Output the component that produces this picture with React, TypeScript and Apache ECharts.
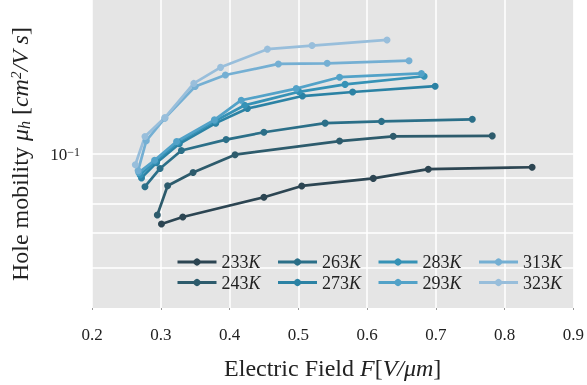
import React, { useEffect, useRef } from "react";
import * as echarts from "echarts";

// Temperatures (legend labels)
const temps = ["233K", "243K", "263K", "273K", "283K", "293K", "313K", "323K"];
const colors = ["#2c4552", "#2d5b6c", "#2b6f88", "#2b82a4", "#3592b6", "#52a2c8", "#74afd3", "#98bedb"];

// Electric field F [V/um] and hole mobility [cm^2/Vs] per temperature
const field233 = [0.301, 0.332, 0.450, 0.505, 0.609, 0.689, 0.840];
const mob233 = [0.0730, 0.0753, 0.0823, 0.0866, 0.0896, 0.0934, 0.0942];

const field243 = [0.295, 0.310, 0.347, 0.408, 0.560, 0.638, 0.782];
const mob243 = [0.0760, 0.0867, 0.0920, 0.0997, 0.1060, 0.1083, 0.1085];

const field263 = [0.277, 0.299, 0.330, 0.395, 0.450, 0.539, 0.621, 0.753];
const mob263 = [0.0863, 0.0937, 0.1016, 0.1067, 0.1103, 0.1149, 0.1158, 0.1169];

const field273 = [0.272, 0.294, 0.327, 0.380, 0.426, 0.506, 0.579, 0.699];
const mob273 = [0.0898, 0.0962, 0.1047, 0.1149, 0.1227, 0.1298, 0.1322, 0.1357];

const field283 = [0.270, 0.292, 0.325, 0.379, 0.422, 0.501, 0.568, 0.683];
const mob283 = [0.0910, 0.0968, 0.1055, 0.1160, 0.1245, 0.1323, 0.1368, 0.1419];

const field293 = [0.268, 0.291, 0.323, 0.378, 0.417, 0.497, 0.560, 0.679];
const mob293 = [0.0920, 0.0972, 0.1058, 0.1166, 0.1274, 0.1342, 0.1413, 0.1437];

const field313 = [0.267, 0.279, 0.306, 0.350, 0.394, 0.471, 0.542, 0.661];
const mob313 = [0.0928, 0.1062, 0.1175, 0.1355, 0.1427, 0.1500, 0.1504, 0.1522];

const field323 = [0.263, 0.277, 0.306, 0.348, 0.387, 0.455, 0.520, 0.629];
const mob323 = [0.0953, 0.1082, 0.1178, 0.1374, 0.1477, 0.1603, 0.1629, 0.1671];

const fields = [field233, field243, field263, field273, field283, field293, field313, field323];
const mobs = [mob233, mob243, mob263, mob273, mob283, mob293, mob313, mob323];

// Y axis (log) grid values and tick labels
const yGridValues = [0.06, 0.07, 0.08, 0.09, 0.1];
const yMajorTick = 0.1;

const legendRow1 = ["233K", "263K", "283K", "313K"];
const legendRow2 = ["243K", "273K", "293K", "323K"];

const FONT = "Liberation Serif";

export default function App() {
  const ref = useRef<HTMLDivElement>(null);
  useEffect(() => {
    if (!ref.current) return;
    const chart = echarts.init(ref.current, undefined, { renderer: "svg" });

    const legendText = {
      fontFamily: FONT,
      fontSize: 18,
      color: "#222",
      rich: {
        n: { fontFamily: FONT, fontSize: 18, color: "#222" },
        k: { fontFamily: FONT, fontSize: 18, fontStyle: "italic", color: "#222" },
      },
    };
    const legendFormatter = (name: string) => `{n|${name.slice(0, 3)}}{k|K}`;
    const legendBase = {
      orient: "horizontal",
      padding: 0,
      itemWidth: 39,
      itemHeight: 9,
      itemGap: 16,
      textStyle: legendText,
      formatter: legendFormatter,
      selectedMode: false,
      lineStyle: { width: 3 },
    };

    const gridSeries = {
      type: "line",
      name: "__grid",
      data: [],
      z: 1,
      silent: true,
      markLine: {
        silent: true,
        z: 1,
        symbol: ["none", "none"],
        animation: false,
        lineStyle: { color: "#ffffff", width: 1.5, type: "solid" },
        data: yGridValues.map((v) => ({
          yAxis: v,
          label:
            v === yMajorTick
              ? {
                  show: true,
                  position: "start",
                  distance: 12,
                  formatter: "{a|10}{b|−1}",
                  rich: {
                    a: { fontFamily: FONT, fontSize: 17, color: "#222" },
                    b: { fontFamily: FONT, fontSize: 12, color: "#222", verticalAlign: "top" },
                  },
                }
              : { show: false },
        })),
      },
    };

    const dataSeries = temps.map((t, i) => ({
      type: "line",
      name: t,
      z: 3,
      data: fields[i].map((x, j) => [x, mobs[i][j]]),
      symbol: "circle",
      symbolSize: 7,
      color: colors[i],
      lineStyle: { width: 2.7, color: colors[i] },
      itemStyle: { color: colors[i] },
    }));

    chart.setOption({
      animation: false,
      textStyle: { fontFamily: FONT },
      grid: {
        left: 90,
        right: 11.5,
        top: 0,
        bottom: 74,
        show: true,
        backgroundColor: "#e5e5e5",
        borderWidth: 0,
      },
      legend: [
        { ...legendBase, data: legendRow1, left: 176, top: 253 },
        { ...legendBase, data: legendRow2, left: 176, top: 273.5 },
      ],
      xAxis: {
        type: "value",
        min: 0.2,
        max: 0.9,
        interval: 0.1,
        axisLine: { show: false },
        axisTick: { show: true, length: 2, lineStyle: { color: "#999" } },
        splitLine: { show: true, lineStyle: { color: "#ffffff", width: 1.5 } },
        axisLabel: {
          fontFamily: FONT,
          fontSize: 17,
          color: "#222",
          margin: 18,
          formatter: (v: number) => v.toFixed(1),
        },
        name: "{r|Electric Field }{i|F}{r|[}{i|V/μm}{r|]}",
        nameLocation: "middle",
        nameGap: 48,
        nameTextStyle: {
          rich: {
            r: { fontFamily: FONT, fontSize: 24, color: "#222" },
            i: { fontFamily: FONT, fontSize: 24, fontStyle: "italic", color: "#222" },
          },
        },
      },
      yAxis: {
        type: "log",
        logBase: 10,
        min: 0.05,
        max: 0.2,
        axisLine: { show: false },
        axisTick: { show: false },
        axisLabel: { show: false },
        splitLine: { show: false },
        minorSplitLine: { show: false },
        name: "{r|Hole mobility }{i|μ}{s|h}{r| [}{i|cm}{p|2}{i|/V s}{r|]}",
        nameLocation: "middle",
        nameGap: 60,
        nameTextStyle: {
          rich: {
            r: { fontFamily: FONT, fontSize: 24, color: "#222" },
            i: { fontFamily: FONT, fontSize: 24, fontStyle: "italic", color: "#222" },
            s: { fontFamily: FONT, fontSize: 16, fontStyle: "italic", color: "#222", verticalAlign: "bottom" },
            p: { fontFamily: FONT, fontSize: 15, fontStyle: "italic", color: "#222", verticalAlign: "top" },
          },
        },
      },
      series: [gridSeries, ...dataSeries],
    });
    return () => chart.dispose();
  }, []);
  return (
    <div
      ref={ref}
      style={{ position: "fixed", left: 0, top: 0, width: 587, height: 385 }}
    />
  );
}
